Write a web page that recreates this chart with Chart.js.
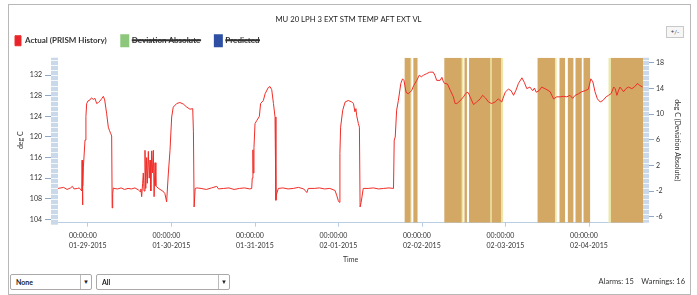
<!DOCTYPE html>
<html>
<head>
<meta charset="utf-8">
<script src="https://cdn.jsdelivr.net/npm/chart.js@4.4.1/dist/chart.umd.min.js"></script>
<style>
body { margin: 0; background: #fff; font-family: Lato, 'Liberation Sans', sans-serif; }
#wrap { position: absolute; left: 0; top: 0; width: 697px; height: 270px; }
#frame { position: absolute; left: 8px; top: 4px; width: 681px; height: 289px; border: 1px solid #b8b8b8; pointer-events: none; }
#zoomBtn { position: absolute; left: 666px; top: 26px; width: 16px; height: 10px; border: 1px solid #c8c8c8; background: #f6f6f6;
  font-size: 6px; line-height: 10px; text-align: center; color: #333; }
.sel { position: absolute; top: 274px; height: 14px; border: 1px solid #a9a9a9; border-radius: 2px; background: #fff;
  font-size: 7px; font-weight: bold; line-height: 14px; color: #222; }
.sel span.t { position: absolute; left: 5px; }
.sel span.a { position: absolute; right: 0; top: 0; width: 10px; height: 14px; border-left: 1px solid #bbb; text-align: center; font-size: 6px; }
#counts { position: absolute; right: 12px; top: 277px; font-size: 7.5px; color: #333; }
</style>
</head>
<body>
<div id="wrap"><canvas id="trendChart" width="697" height="270"></canvas></div>
<div id="frame"></div>
<div id="zoomBtn">+/-</div>
<div class="sel" style="left:10px;width:80px"><span class="t">None</span><span class="a">&#9660;</span></div>
<div class="sel" style="left:96px;width:132px"><span class="t">All</span><span class="a">&#9660;</span></div>
<div id="counts">Alarms: 15&nbsp;&nbsp;&nbsp; Warnings: 16</div>
<script>
// hours from 01-29-2015 00:00:00
const timeHours = [
  -8.6, -7.0, -6.0, -5.0, -4.5, -4.0, -3.0, -2.5, -2.0, -1.8, -1.7, -1.6, -1.45, -1.34, -0.86, -0.6, -0.38, 0.0, 0.57, 1.0,
  1.53, 2.0, 2.49, 3.0, 3.45, 4.0, 4.41, 4.8, 5.37, 5.84, 6.2, 6.51, 6.8, 6.95, 7.1, 7.28,
  7.5, 8.5, 9.5, 10.5, 11.5, 12.5, 13.5, 14.5, 14.95, 15.2, 15.43, 15.7, 15.9, 16.1, 16.38, 16.6, 16.86, 17.05, 17.34, 17.6,
  17.82, 18.05, 18.3, 18.55, 18.78, 19.0, 19.26, 19.5, 19.74, 20.7, 21.5, 22.1, 22.6, 23.1, 23.57, 24.05, 24.5, 25.5, 26.4,
  27.4, 28.4, 29.3, 30.1, 30.3, 30.5, 30.8, 31.3,
  32.5, 34.0, 35.5, 37.0, 37.5, 39.0, 40.5, 42.0, 43.5, 45.0, 46.5, 47.05, 47.2, 47.4, 47.5, 47.7, 48.0, 48.5, 49.25, 49.6,
  50.4, 50.9, 51.8, 52.3, 52.8, 53.3, 53.75, 54.0, 54.2, 54.7,
  56.0, 57.5, 59.0, 60.5, 62.0, 62.9, 63.3, 65.0, 66.5, 68.0, 69.5, 71.0, 71.5, 71.95, 72.25, 72.4, 72.6, 73.2, 73.9, 74.8,
  75.8, 76.3, 76.7, 77.0, 77.2, 77.7, 78.0, 78.2, 78.5, 79.1,
  80.5, 82.0, 83.5, 85.0, 86.5, 87.8, 88.0, 88.3, 88.7, 89.2, 89.9, 90.4, 90.8, 91.4, 92.0, 92.5, 93.0, 93.6, 94.5, 95.2,
  95.8, 96.4, 97.3, 98.2, 99.2, 99.7, 100.2, 101.2, 101.7, 102.2, 102.6, 103.3, 104.1, 105.0, 105.5, 106.0, 106.9, 107.9,
  108.4, 108.9, 109.3, 109.8, 110.8, 111.7, 112.7, 113.4, 114.2, 115.1, 116.0, 117.0, 117.9, 118.9, 119.9, 120.8, 121.6,
  122.3, 123.0, 123.7, 124.7, 125.4, 126.1, 127.0, 127.8, 128.3, 128.8, 129.6, 130.4, 131.6, 132.8, 133.8, 134.7, 135.7,
  136.6, 137.6, 138.5, 139.3, 140.0, 141.0, 141.9, 142.9, 143.8, 144.5, 145.1, 145.7, 146.4, 147.2, 148.0, 148.9, 149.6,
  150.3, 151.1, 151.5, 152.0, 152.5, 152.9, 153.9, 154.6, 155.3, 156.3, 157.0, 157.9, 158.6, 159.4
];
const actualTemp = [
  110.0, 110.2, 109.8, 110.1, 110.4, 109.9, 110.0, 110.1, 109.7, 109.5, 115.5, 106.8, 110.5, 114.0, 119.4, 124.0, 126.5, 127.0, 127.2, 127.6,
  127.3, 127.5, 126.5, 126.7, 127.0, 127.5, 127.9, 127.2, 124.5, 121.9, 121.2, 120.7, 120.2, 106.2, 109.0, 110.1,
  110.0, 109.9, 110.1, 109.8, 110.0, 109.9, 110.1, 109.7, 109.4, 109.9, 108.4, 111.0, 113.0, 109.5, 117.4, 110.0, 116.0, 111.0, 117.2, 112.0,
  115.5, 109.5, 117.3, 113.0, 117.4, 108.4, 115.0, 110.5, 110.3, 109.8, 109.5, 109.0, 107.4, 113.0, 117.4, 123.9, 125.8, 126.5, 126.7,
  126.4, 125.8, 125.4, 125.5, 121.0, 106.4, 110.0, 110.1,
  110.0, 109.8, 110.1, 110.4, 109.9, 110.0, 110.1, 109.8, 110.0, 110.1, 109.9, 110.0, 112.0, 117.5, 113.0, 118.0, 122.6, 123.2, 124.0, 126.5,
  127.1, 128.4, 129.6, 129.8, 129.2, 126.5, 123.9, 107.7, 108.9, 110.0,
  110.1, 109.9, 110.0, 110.2, 109.9, 109.2, 110.0, 110.0, 110.1, 109.9, 110.0, 109.6, 108.6, 107.6, 107.3, 116.8, 121.9, 125.2, 126.8, 127.1,
  126.8, 126.5, 124.9, 125.5, 124.2, 122.6, 121.9, 106.4, 107.3, 110.0,
  110.0, 110.1, 109.9, 110.0, 110.1, 110.0, 119.4, 120.0, 125.2, 127.1, 130.4, 131.3, 131.0, 128.7, 128.4, 128.7, 129.0, 130.0, 131.0, 132.0,
  131.7, 132.0, 132.3, 132.6, 132.6, 132.0, 131.0, 131.0, 131.6, 130.6, 130.4, 130.3, 129.1, 127.8, 126.5, 126.5, 127.0, 127.8,
  128.3, 128.7, 128.6, 127.8, 126.3, 126.8, 127.4, 128.1, 127.6, 126.8, 126.5, 126.8, 127.4, 126.8, 128.7, 129.3, 129.0,
  128.1, 129.1, 130.4, 131.5, 130.6, 129.4, 129.7, 129.0, 129.5, 128.7, 129.0, 129.7, 129.3, 128.8, 127.4, 127.8, 127.8,
  127.9, 127.8, 128.1, 127.5, 128.1, 128.4, 128.8, 129.0, 129.3, 131.3, 130.7, 128.8, 127.4, 126.8, 127.1, 127.8, 128.1,
  128.4, 129.7, 129.4, 128.1, 129.1, 129.7, 128.8, 129.4, 129.7, 129.4, 129.7, 130.4, 130.0, 129.7
];

// alarm / warning periods, hours from 01-29-2015 00:00:00
const alarmStart = [91.0, 93.5, 102.4, 108.2, 109.5, 116.0, 129.2, 135.5, 137.9, 140.1, 142.4, 150.3];
const alarmEnd   = [92.7, 94.7, 107.4, 108.9, 115.6, 118.7, 134.2, 137.1, 139.5, 141.9, 144.3, 159.6];
const warnStart  = [92.6, 107.4, 115.5, 118.6, 134.1, 149.6];
const warnEnd    = [93.0, 107.9, 116.0, 119.3, 134.7, 150.3];

const dayLabels = ['01-29-2015', '01-30-2015', '01-31-2015', '02-01-2015', '02-02-2015', '02-03-2015', '02-04-2015'];
const tempTicks = [104, 108, 112, 116, 120, 124, 128, 132];
const devTicks = [-6, -2, 2, 6, 10, 14, 18];

const FONT = 'Lato, "Liberation Sans", sans-serif';
const alarmColor = '#D3A864';
const warnColor = '#ECE7A8';
const stripColor = '#C9D9E9';

const bandPlugin = {
    id: 'bands',
    beforeDatasetsDraw(chart) {
        const { ctx, chartArea: a, scales: { x } } = chart;
        ctx.save();
        ctx.beginPath();
        ctx.rect(a.left, a.top, a.right - a.left, a.bottom - a.top);
        ctx.clip();
        ctx.fillStyle = warnColor;
        warnStart.forEach((s, i) => {
            const x0 = x.getPixelForValue(s);
            ctx.fillRect(x0, a.top, x.getPixelForValue(warnEnd[i]) - x0, a.bottom - a.top);
        });
        ctx.fillStyle = alarmColor;
        alarmStart.forEach((s, i) => {
            const x0 = x.getPixelForValue(s);
            ctx.fillRect(x0, a.top, x.getPixelForValue(alarmEnd[i]) - x0, a.bottom - a.top);
        });
        ctx.restore();
    }
};

// the light blue strips beside both value axes
const stripPlugin = {
    id: 'strips',
    afterDraw(chart) {
        const { ctx, chartArea: a, scales: { y } } = chart;
        ctx.save();
        ctx.fillStyle = stripColor;
        ctx.fillRect(a.left - 7, a.top, 7, a.bottom - a.top + 2);
        ctx.fillRect(a.right, a.top, 6, a.bottom - a.top);
        ctx.strokeStyle = 'rgba(255,255,255,0.8)';
        ctx.lineWidth = 1;
        ctx.beginPath();
        for (let v = 104; v <= 135; v += 1) {
            const py = Math.round(y.getPixelForValue(v)) + 0.5;
            ctx.moveTo(a.left - 7, py); ctx.lineTo(a.left, py);
            ctx.moveTo(a.right, py); ctx.lineTo(a.right + 6, py);
        }
        ctx.stroke();
        ctx.restore();
    }
};

const legendSpace = {
    id: 'legendSpace',
    beforeInit(chart) {
        const fit = chart.legend.fit;
        chart.legend.fit = function () {
            fit.bind(chart.legend)();
            this.height += 2;
        };
    }
};

function createTrendChart() {
    const actualPoints = timeHours.map((t, i) => ({ x: t, y: actualTemp[i] }));
    const ctx = document.getElementById('trendChart').getContext('2d');
    new Chart(ctx, {
        type: 'line',
        data: {
            datasets: [{
                label: 'Actual (PRISM History)',
                data: actualPoints,
                borderColor: 'rgb(240,45,40)',
                backgroundColor: '#E8232B',
                borderWidth: 1,
                pointRadius: 0,
                tension: 0,
                yAxisID: 'y'
            }, {
                label: 'Deviation Absolute',
                data: [],
                borderColor: '#8DC77B',
                backgroundColor: '#8DC77B',
                hidden: true,
                yAxisID: 'y1'
            }, {
                label: 'Predicted',
                data: [],
                borderColor: '#2E4FA3',
                backgroundColor: '#2E4FA3',
                hidden: true,
                yAxisID: 'y'
            }]
        },
        options: {
            responsive: false,
            animation: false,
            devicePixelRatio: 1,
            layout: { padding: 0 },
            plugins: {
                tooltip: { enabled: false },
                title: {
                    display: true,
                    text: 'MU 20 LPH 3 EXT STM TEMP AFT EXT VL',
                    color: '#222',
                    font: { family: FONT, size: 7.7, weight: 'normal', lineHeight: 1.2 },
                    padding: { top: 14.5, bottom: -3 }
                },
                legend: {
                    align: 'start',
                    labels: {
                        boxWidth: 6,
                        boxHeight: 10,
                        padding: 15,
                        color: '#333',
                        font: { family: FONT, size: 8, weight: 'bold' }
                    }
                }
            },
            scales: {
                x: {
                    type: 'linear',
                    min: -8.62,
                    max: 159.5,
                    afterFit: s => { s.height = 47.3; },
                    afterBuildTicks: s => { s.ticks = dayLabels.map((d, i) => ({ value: i * 24 })); },
                    grid: { drawOnChartArea: false, tickLength: 4, color: '#B9CDE3' },
                    border: { color: '#B9CDE3' },
                    ticks: {
                        align: 'start',
                        labelOffset: -19,
                        padding: 4,
                        maxRotation: 0,
                        color: '#333',
                        font: { family: FONT, size: 7, lineHeight: 1.45 },
                        callback: v => ['00:00:00', dayLabels[Math.round(v / 24)]]
                    },
                    title: {
                        display: true,
                        text: 'Time',
                        color: '#333',
                        font: { family: FONT, size: 7 },
                        padding: { top: 0, bottom: 6.3 }
                    }
                },
                y: {
                    position: 'left',
                    min: 103.34,
                    max: 135.4,
                    afterFit: s => { s.width = 58; },
                    afterBuildTicks: s => { s.ticks = tempTicks.map(v => ({ value: v })); },
                    grid: { drawOnChartArea: false, tickLength: 13, color: '#8FA8C8' },
                    border: { display: false },
                    ticks: { padding: 3, color: '#333', font: { family: FONT, size: 7 } },
                    title: {
                        display: true,
                        text: 'deg C',
                        color: '#333',
                        font: { family: FONT, size: 7 },
                        padding: { top: 17, bottom: 0 }
                    }
                },
                y1: {
                    position: 'right',
                    min: -6.93,
                    max: 18.78,
                    afterFit: s => { s.width = 54; },
                    afterBuildTicks: s => { s.ticks = devTicks.map(v => ({ value: v })); },
                    grid: { drawOnChartArea: false, tickLength: 11, color: '#8FA8C8' },
                    border: { display: false },
                    ticks: { padding: 2, color: '#333', font: { family: FONT, size: 7 } },
                    title: {
                        display: true,
                        text: 'deg C (Deviation Absolute)',
                        color: '#333',
                        font: { family: FONT, size: 7 },
                        padding: { top: 15.8, bottom: 0 }
                    }
                }
            }
        },
        plugins: [bandPlugin, stripPlugin, legendSpace]
    });
}

document.addEventListener('DOMContentLoaded', createTrendChart);
</script>
</body>
</html>
